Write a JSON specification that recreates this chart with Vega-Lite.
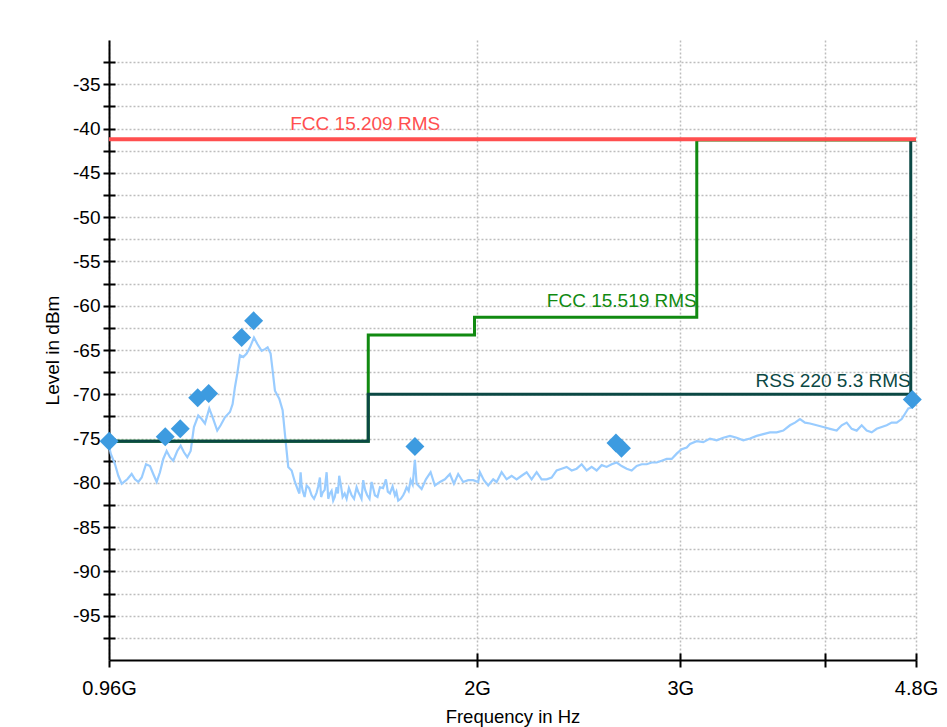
{
  "$schema": "https://vega.github.io/schema/vega-lite/v6.json",
  "width": 807,
  "height": 620,
  "autosize": {"type": "none"},
  "padding": {"left": 109, "top": 40, "right": 31, "bottom": 67},
  "background": "white",
  "config": {
    "view": {"stroke": null},
    "font": "Liberation Sans",
    "axis": {
      "domainColor": "black",
      "domainWidth": 2,
      "tickColor": "black",
      "tickWidth": 2,
      "labelColor": "black",
      "titleColor": "black",
      "titleFontWeight": "normal",
      "gridColor": "#bdbdbd",
      "gridDash": [2, 2],
      "gridWidth": 1.5,
      "labelOverlap": false,
      "labelFlush": false,
      "labelBound": false,
      "tickCount": 100
    }
  },
  "resolve": {"axis": {"x": "independent", "y": "independent"}},
  "datasets": {
    "trace": [
      {"f": 0.96, "db": -75.8}, {"f": 0.9633, "db": -76.7}, {"f": 0.9716, "db": -77.9}, {"f": 0.978, "db": -79.2},
      {"f": 0.9846, "db": -80.1}, {"f": 0.9911, "db": -79.8}, {"f": 0.9957, "db": -79.6}, {"f": 1.0044, "db": -79.0},
      {"f": 1.0111, "db": -79.6}, {"f": 1.0178, "db": -79.9}, {"f": 1.0247, "db": -79.4}, {"f": 1.0335, "db": -77.9},
      {"f": 1.0418, "db": -78.1}, {"f": 1.0486, "db": -79.0}, {"f": 1.0558, "db": -79.9}, {"f": 1.0627, "db": -78.8},
      {"f": 1.0697, "db": -77.3}, {"f": 1.077, "db": -76.4}, {"f": 1.0841, "db": -77.1}, {"f": 1.0913, "db": -77.5},
      {"f": 1.1, "db": -76.4}, {"f": 1.1075, "db": -75.8}, {"f": 1.1148, "db": -76.55}, {"f": 1.1222, "db": -77.1},
      {"f": 1.1298, "db": -76.4}, {"f": 1.1372, "db": -73.7}, {"f": 1.147, "db": -72.4}, {"f": 1.1548, "db": -72.8},
      {"f": 1.1625, "db": -73.3}, {"f": 1.1725, "db": -71.6}, {"f": 1.1819, "db": -72.8}, {"f": 1.1913, "db": -74.1},
      {"f": 1.1994, "db": -73.5}, {"f": 1.2097, "db": -72.6}, {"f": 1.2219, "db": -72.0}, {"f": 1.2284, "db": -71.1},
      {"f": 1.2341, "db": -69.2}, {"f": 1.2398, "db": -67.7}, {"f": 1.2465, "db": -65.6}, {"f": 1.2547, "db": -65.8},
      {"f": 1.2632, "db": -65.4}, {"f": 1.2716, "db": -64.7}, {"f": 1.2818, "db": -63.6}, {"f": 1.2902, "db": -64.3},
      {"f": 1.3016, "db": -65.1}, {"f": 1.3102, "db": -64.9}, {"f": 1.3172, "db": -64.7}, {"f": 1.3251, "db": -65.4},
      {"f": 1.3304, "db": -67.3}, {"f": 1.3366, "db": -69.6}, {"f": 1.3481, "db": -70.5}, {"f": 1.3572, "db": -71.8},
      {"f": 1.3635, "db": -74.5}, {"f": 1.3725, "db": -78.2}, {"f": 1.3818, "db": -78.6}, {"f": 1.3909, "db": -79.9},
      {"f": 1.4001, "db": -80.9}, {"f": 1.4034, "db": -81.2}, {"f": 1.4068, "db": -78.8}, {"f": 1.4096, "db": -80.2},
      {"f": 1.4125, "db": -80.9}, {"f": 1.418, "db": -81.6}, {"f": 1.4238, "db": -80.3}, {"f": 1.431, "db": -80.6},
      {"f": 1.438, "db": -81.4}, {"f": 1.445, "db": -81.8}, {"f": 1.4524, "db": -81.1}, {"f": 1.457, "db": -80.4},
      {"f": 1.462, "db": -79.4}, {"f": 1.4655, "db": -81.6}, {"f": 1.4699, "db": -81.1}, {"f": 1.476, "db": -80.8},
      {"f": 1.4817, "db": -78.8}, {"f": 1.4865, "db": -81.8}, {"f": 1.4915, "db": -81.2}, {"f": 1.4965, "db": -80.9},
      {"f": 1.5013, "db": -82.0}, {"f": 1.506, "db": -81.6}, {"f": 1.5115, "db": -80.5}, {"f": 1.5155, "db": -81.2},
      {"f": 1.5194, "db": -79.2}, {"f": 1.525, "db": -80.4}, {"f": 1.5297, "db": -81.6}, {"f": 1.536, "db": -81.2},
      {"f": 1.542, "db": -81.8}, {"f": 1.549, "db": -80.6}, {"f": 1.5574, "db": -81.4}, {"f": 1.565, "db": -81.8},
      {"f": 1.573, "db": -80.5}, {"f": 1.578, "db": -81.0}, {"f": 1.5834, "db": -81.4}, {"f": 1.5885, "db": -81.8},
      {"f": 1.5939, "db": -79.7}, {"f": 1.6, "db": -80.8}, {"f": 1.6066, "db": -81.4}, {"f": 1.614, "db": -81.8},
      {"f": 1.6208, "db": -79.9}, {"f": 1.626, "db": -80.6}, {"f": 1.6315, "db": -81.4}, {"f": 1.64, "db": -81.6},
      {"f": 1.6479, "db": -80.5}, {"f": 1.658, "db": -80.6}, {"f": 1.6677, "db": -79.6}, {"f": 1.674, "db": -81.0},
      {"f": 1.681, "db": -81.2}, {"f": 1.69, "db": -80.4}, {"f": 1.6979, "db": -81.4}, {"f": 1.703, "db": -81.0},
      {"f": 1.7091, "db": -82.0}, {"f": 1.718, "db": -81.8}, {"f": 1.7262, "db": -81.4}, {"f": 1.732, "db": -81.0},
      {"f": 1.738, "db": -80.5}, {"f": 1.745, "db": -80.9}, {"f": 1.7519, "db": -79.7}, {"f": 1.759, "db": -80.2},
      {"f": 1.767, "db": -77.4}, {"f": 1.773, "db": -80.1},
      {"f": 1.7908, "db": -80.7}, {"f": 1.8062, "db": -79.6}, {"f": 1.8232, "db": -78.8}, {"f": 1.8389, "db": -80.3},
      {"f": 1.8573, "db": -79.9}, {"f": 1.8759, "db": -79.6}, {"f": 1.8947, "db": -79.0}, {"f": 1.9099, "db": -80.1},
      {"f": 1.9263, "db": -79.0}, {"f": 1.9456, "db": -79.9}, {"f": 1.9651, "db": -79.7}, {"f": 1.9848, "db": -79.7},
      {"f": 2.0047, "db": -79.9}, {"f": 2.0115, "db": -78.8}, {"f": 2.0276, "db": -79.7}, {"f": 2.0451, "db": -80.3},
      {"f": 2.0656, "db": -79.6}, {"f": 2.0797, "db": -79.9}, {"f": 2.1005, "db": -78.8}, {"f": 2.1216, "db": -79.6},
      {"f": 2.1429, "db": -79.2}, {"f": 2.1643, "db": -79.6}, {"f": 2.186, "db": -79.2}, {"f": 2.208, "db": -78.8},
      {"f": 2.2301, "db": -79.6}, {"f": 2.2525, "db": -78.8}, {"f": 2.275, "db": -79.6}, {"f": 2.2979, "db": -79.6},
      {"f": 2.3209, "db": -79.4}, {"f": 2.3442, "db": -78.6}, {"f": 2.3677, "db": -78.4}, {"f": 2.3914, "db": -78.2},
      {"f": 2.4154, "db": -78.6}, {"f": 2.4396, "db": -78.4}, {"f": 2.4641, "db": -77.9}, {"f": 2.4888, "db": -78.6},
      {"f": 2.5137, "db": -78.2}, {"f": 2.5389, "db": -78.6}, {"f": 2.5644, "db": -78.0}, {"f": 2.5901, "db": -78.2},
      {"f": 2.6161, "db": -77.9}, {"f": 2.6423, "db": -77.7}, {"f": 2.6688, "db": -78.1}, {"f": 2.6955, "db": -78.4},
      {"f": 2.7226, "db": -78.6}, {"f": 2.7499, "db": -78.1}, {"f": 2.7774, "db": -77.9}, {"f": 2.8053, "db": -77.9},
      {"f": 2.8334, "db": -77.7}, {"f": 2.8618, "db": -77.7}, {"f": 2.8905, "db": -77.5}, {"f": 2.9195, "db": -77.3},
      {"f": 2.9488, "db": -77.3}, {"f": 2.9783, "db": -76.7}, {"f": 3.0082, "db": -76.2}, {"f": 3.0384, "db": -76.0},
      {"f": 3.0584, "db": -75.6}, {"f": 3.0996, "db": -75.3}, {"f": 3.1406, "db": -75.4}, {"f": 3.1829, "db": -75.0},
      {"f": 3.2257, "db": -75.2}, {"f": 3.2684, "db": -74.9}, {"f": 3.3123, "db": -74.7}, {"f": 3.3569, "db": -74.9},
      {"f": 3.4013, "db": -75.2}, {"f": 3.4471, "db": -75.0}, {"f": 3.4934, "db": -74.7}, {"f": 3.5397, "db": -74.5},
      {"f": 3.5873, "db": -74.3}, {"f": 3.6355, "db": -74.3}, {"f": 3.6837, "db": -74.1}, {"f": 3.7333, "db": -73.5},
      {"f": 3.7707, "db": -73.2}, {"f": 3.8085, "db": -72.8}, {"f": 3.8467, "db": -73.2}, {"f": 3.8852, "db": -73.3},
      {"f": 3.9375, "db": -73.5}, {"f": 3.9896, "db": -73.7}, {"f": 4.0433, "db": -73.9}, {"f": 4.0977, "db": -74.1},
      {"f": 4.1388, "db": -73.5}, {"f": 4.1803, "db": -73.2}, {"f": 4.2222, "db": -73.9}, {"f": 4.2645, "db": -74.1},
      {"f": 4.3073, "db": -73.5}, {"f": 4.3504, "db": -74.1}, {"f": 4.3941, "db": -74.3}, {"f": 4.4381, "db": -73.9},
      {"f": 4.4826, "db": -73.7}, {"f": 4.5275, "db": -73.5}, {"f": 4.5729, "db": -73.2}, {"f": 4.6187, "db": -73.2},
      {"f": 4.665, "db": -72.8}, {"f": 4.6958, "db": -72.2}, {"f": 4.7268, "db": -71.6}, {"f": 4.759, "db": -71.5},
      {"f": 4.8, "db": -71.1}
    ],
    "masks": [
      {"series": "FCC 15.519 RMS", "i": 1, "f": 0.96, "db": -75.3},
      {"series": "FCC 15.519 RMS", "i": 2, "f": 1.61, "db": -75.3},
      {"series": "FCC 15.519 RMS", "i": 3, "f": 1.61, "db": -63.3},
      {"series": "FCC 15.519 RMS", "i": 4, "f": 1.99, "db": -63.3},
      {"series": "FCC 15.519 RMS", "i": 5, "f": 1.99, "db": -61.3},
      {"series": "FCC 15.519 RMS", "i": 6, "f": 3.1, "db": -61.3},
      {"series": "FCC 15.519 RMS", "i": 7, "f": 3.1, "db": -41.3},
      {"series": "FCC 15.519 RMS", "i": 8, "f": 4.8, "db": -41.3},
      {"series": "RSS 220 5.3 RMS", "i": 1, "f": 0.96, "db": -75.3},
      {"series": "RSS 220 5.3 RMS", "i": 2, "f": 1.61, "db": -75.3},
      {"series": "RSS 220 5.3 RMS", "i": 3, "f": 1.61, "db": -70.0},
      {"series": "RSS 220 5.3 RMS", "i": 4, "f": 4.75, "db": -70.0},
      {"series": "RSS 220 5.3 RMS", "i": 5, "f": 4.75, "db": -41.3},
      {"series": "RSS 220 5.3 RMS", "i": 6, "f": 4.8, "db": -41.3},
      {"series": "FCC 15.209 RMS", "i": 1, "f": 0.96, "db": -41.2},
      {"series": "FCC 15.209 RMS", "i": 2, "f": 4.8, "db": -41.2}
    ],
    "markers": [
      {"f": 0.9602, "db": -75.3}, {"f": 1.074, "db": -74.8}, {"f": 1.1066, "db": -73.9},
      {"f": 1.1457, "db": -70.4}, {"f": 1.1711, "db": -69.9}, {"f": 1.2507, "db": -63.6},
      {"f": 1.281, "db": -61.7}, {"f": 1.767, "db": -75.9}, {"f": 2.6386, "db": -75.5},
      {"f": 2.6677, "db": -76.1}, {"f": 4.7647, "db": -70.6}
    ],
    "labels": [
      {"series": "FCC 15.209 RMS", "f": 1.378, "db": -41.2},
      {"series": "FCC 15.519 RMS", "f": 3.1, "db": -61.3},
      {"series": "RSS 220 5.3 RMS", "f": 4.75, "db": -70.0}
    ]
  },
  "layer": [
    {
      "data": {"name": "trace"},
      "mark": {"type": "line", "color": "#99ccff", "strokeWidth": 2.2, "clip": true},
      "encoding": {
        "x": {
          "field": "f", "type": "quantitative",
          "scale": {"type": "log", "domain": [0.96, 4.8], "nice": false},
          "axis": {
            "title": "Frequency in Hz",
            "orient": "bottom",
            "values": [0.96, 2, 3, 4, 4.8],
            "labelExpr": "datum.value == 4 ? '' : datum.value + 'G'",
            "tickSize": 7,
            "labelFontSize": 20,
            "labelPadding": 11,
            "titleFontSize": 18.5,
            "titlePadding": 9,
            "grid": true
          }
        },
        "y": {
          "field": "db", "type": "quantitative",
          "scale": {"domain": [-100, -30], "nice": false, "zero": false},
          "axis": {
            "title": "Level in dBm",
            "orient": "left",
            "values": [-97.5, -95, -92.5, -90, -87.5, -85, -82.5, -80, -77.5, -75, -72.5, -70, -67.5, -65, -62.5, -60, -57.5, -55, -52.5, -50, -47.5, -45, -42.5, -40, -37.5, -35, -32.5],
            "labelExpr": "datum.value % 5 == 0 ? '' + datum.value : ''",
            "tickSize": 6,
            "labelFontSize": 19,
            "labelPadding": 3,
            "titleFontSize": 19,
            "titlePadding": 10,
            "grid": true
          }
        }
      }
    },
    {
      "data": {"name": "masks"},
      "transform": [{"filter": "datum.series != 'FCC 15.209 RMS'"}],
      "mark": {"type": "line", "strokeWidth": 3, "interpolate": "linear"},
      "encoding": {
        "x": {
          "field": "f", "type": "quantitative",
          "axis": {"orient": "bottom", "values": [2, 3, 4, 4.8], "tickSize": -7, "labels": false, "domain": false, "grid": false, "title": null}
        },
        "y": {
          "field": "db", "type": "quantitative",
          "axis": {
            "orient": "left",
            "values": [-97.5, -95, -92.5, -90, -87.5, -85, -82.5, -80, -77.5, -75, -72.5, -70, -67.5, -65, -62.5, -60, -57.5, -55, -52.5, -50, -47.5, -45, -42.5, -40, -37.5, -35, -32.5],
            "tickSize": -6, "labels": false, "domain": false, "grid": false, "title": null
          }
        },
        "order": {"field": "i", "type": "quantitative"},
        "color": {
          "field": "series", "type": "nominal", "legend": null,
          "scale": {"domain": ["FCC 15.209 RMS", "FCC 15.519 RMS", "RSS 220 5.3 RMS"], "range": ["#ff4f4f", "#118a11", "#0b4844"]}
        }
      }
    },
    {
      "data": {"name": "masks"},
      "transform": [{"filter": "datum.series == 'FCC 15.209 RMS'"}],
      "mark": {"type": "line", "strokeWidth": 4},
      "encoding": {
        "x": {"field": "f", "type": "quantitative", "axis": null},
        "y": {"field": "db", "type": "quantitative", "axis": null},
        "order": {"field": "i", "type": "quantitative"},
        "color": {"field": "series", "type": "nominal", "legend": null}
      }
    },
    {
      "data": {"name": "markers"},
      "mark": {"type": "point", "shape": "diamond", "filled": true, "size": 360, "opacity": 1, "color": "#3d9be0"},
      "encoding": {
        "x": {"field": "f", "type": "quantitative", "axis": null},
        "y": {"field": "db", "type": "quantitative", "axis": null}
      }
    },
    {
      "data": {"name": "labels"},
      "transform": [{"filter": "datum.series == 'FCC 15.209 RMS'"}],
      "mark": {"type": "text", "align": "left", "baseline": "alphabetic", "dy": -9, "fontSize": 19},
      "encoding": {
        "x": {"field": "f", "type": "quantitative", "axis": null},
        "y": {"field": "db", "type": "quantitative", "axis": null},
        "text": {"field": "series"},
        "color": {"field": "series", "type": "nominal", "legend": null}
      }
    },
    {
      "data": {"name": "labels"},
      "transform": [{"filter": "datum.series == 'FCC 15.519 RMS'"}],
      "mark": {"type": "text", "align": "right", "baseline": "alphabetic", "dy": -10, "fontSize": 19},
      "encoding": {
        "x": {"field": "f", "type": "quantitative", "axis": null},
        "y": {"field": "db", "type": "quantitative", "axis": null},
        "text": {"field": "series"},
        "color": {"field": "series", "type": "nominal", "legend": null}
      }
    },
    {
      "data": {"name": "labels"},
      "transform": [{"filter": "datum.series == 'RSS 220 5.3 RMS'"}],
      "mark": {"type": "text", "align": "right", "baseline": "alphabetic", "dy": -7, "fontSize": 19},
      "encoding": {
        "x": {"field": "f", "type": "quantitative", "axis": null},
        "y": {"field": "db", "type": "quantitative", "axis": null},
        "text": {"field": "series"},
        "color": {"field": "series", "type": "nominal", "legend": null}
      }
    }
  ]
}
